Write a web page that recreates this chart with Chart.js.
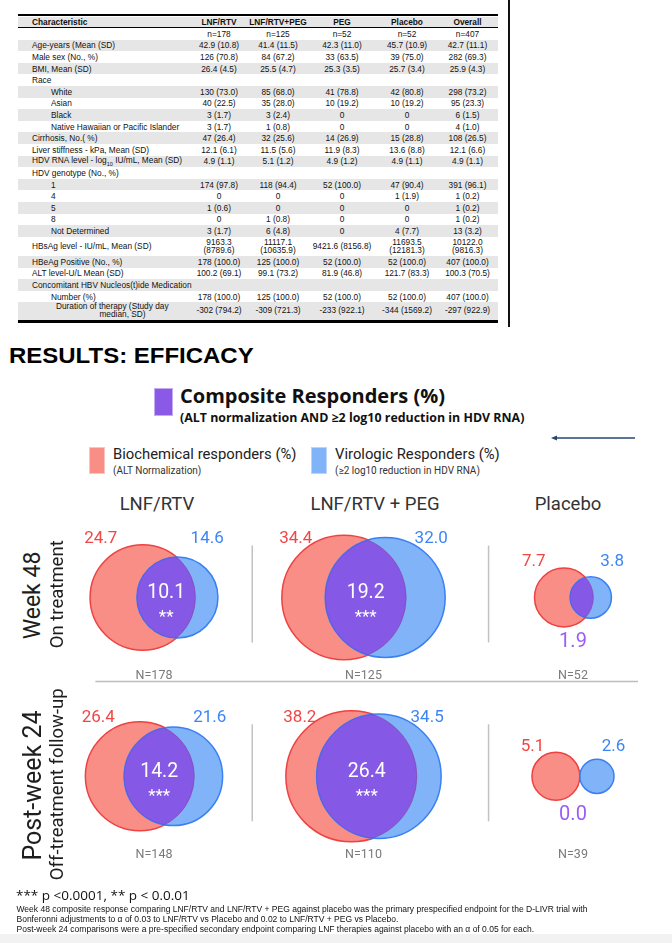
<!DOCTYPE html>
<html>
<head>
<meta charset="utf-8">
<script src="https://cdn.jsdelivr.net/npm/chart.js@4.4.1/dist/chart.umd.min.js"></script>
<style>
  body { margin: 0; width: 672px; height: 943px; position: relative; overflow: hidden; background: #fff; font-family: Roboto, sans-serif; color: #222; }
  .abs { position: absolute; line-height: 1; white-space: nowrap; }
  #baseline { position: absolute; left: 18px; top: 14px; width: 480px; border-top: 2.7px solid #000; }
  #endline { position: absolute; left: 18px; top: 319.5px; width: 480px; border-top: 3px solid #000; }
  #sideline { position: absolute; left: 508px; top: 0; width: 1.5px; height: 327px; background: #111; }
  table { position: absolute; left: 18px; top: 16.5px; width: 480px; border-collapse: collapse; table-layout: fixed;
          font-family: "Liberation Sans", Arial, sans-serif; font-size: 8.3px; color: #111; }
  td { padding: 0; height: 11.6px; line-height: 8px; text-align: center; white-space: nowrap; overflow: visible; }
  td:first-child { text-align: left; padding-left: 14px; }
  tr.g td { background: #e6e6e6; }
  tr.hd td { font-weight: bold; border-bottom: 1px solid #000; height: 10.6px; }
  tr.in td:first-child { padding-left: 33px; }
  tr.tall td { height: 19.1px; }
  tr.dur td { height: 17.4px; line-height: 7.6px; }
  .rot { position: absolute; line-height: 1; text-align: center; white-space: nowrap; transform: rotate(-90deg); color: #1e1e1e; }
  .foot { position: absolute; left: 16.5px; font-family: "Liberation Sans", Arial, sans-serif; font-size: 8.5px; line-height: 1; color: #111; white-space: nowrap; }
</style>
</head>
<body>

<div id="baseline"></div>
<table>
  <colgroup><col style="width:171px"><col style="width:60px"><col style="width:58px"><col style="width:70px"><col style="width:60px"><col style="width:61px"></colgroup>
  <tr class="hd g"><td>Characteristic</td><td>LNF/RTV</td><td>LNF/RTV+PEG</td><td>PEG</td><td>Placebo</td><td>Overall</td></tr>
  <tr><td></td><td>n=178</td><td>n=125</td><td>n=52</td><td>n=52</td><td>n=407</td></tr>
  <tr class="g"><td>Age-years (Mean (SD)</td><td>42.9 (10.8)</td><td>41.4 (11.5)</td><td>42.3 (11.0)</td><td>45.7 (10.9)</td><td>42.7 (11.1)</td></tr>
  <tr><td>Male sex (No., %)</td><td>126 (70.8)</td><td>84 (67.2)</td><td>33 (63.5)</td><td>39 (75.0)</td><td>282 (69.3)</td></tr>
  <tr class="g"><td>BMI, Mean (SD)</td><td>26.4 (4.5)</td><td>25.5 (4.7)</td><td>25.3 (3.5)</td><td>25.7 (3.4)</td><td>25.9 (4.3)</td></tr>
  <tr><td>Race</td><td></td><td></td><td></td><td></td><td></td></tr>
  <tr class="g in"><td>White</td><td>130 (73.0)</td><td>85 (68.0)</td><td>41 (78.8)</td><td>42 (80.8)</td><td>298 (73.2)</td></tr>
  <tr class="in"><td>Asian</td><td>40 (22.5)</td><td>35 (28.0)</td><td>10 (19.2)</td><td>10 (19.2)</td><td>95 (23.3)</td></tr>
  <tr class="g in"><td>Black</td><td>3 (1.7)</td><td>3 (2.4)</td><td>0</td><td>0</td><td>6 (1.5)</td></tr>
  <tr class="in"><td>Native Hawaiian or Pacific Islander</td><td>3 (1.7)</td><td>1 (0.8)</td><td>0</td><td>0</td><td>4 (1.0)</td></tr>
  <tr class="g"><td>Cirrhosis, No.( %)</td><td>47 (26.4)</td><td>32 (25.6)</td><td>14 (26.9)</td><td>15 (28.8)</td><td>108 (26.5)</td></tr>
  <tr><td>Liver stiffness - kPa, Mean (SD)</td><td>12.1 (6.1)</td><td>11.5 (5.6)</td><td>11.9 (8.3)</td><td>13.6 (8.8)</td><td>12.1 (6.6)</td></tr>
  <tr class="g"><td>HDV RNA level - log<sub style="font-size:5.5px">10</sub> IU/mL, Mean (SD)</td><td>4.9 (1.1)</td><td>5.1 (1.2)</td><td>4.9 (1.2)</td><td>4.9 (1.1)</td><td>4.9 (1.1)</td></tr>
  <tr><td>HDV genotype (No., %)</td><td></td><td></td><td></td><td></td><td></td></tr>
  <tr class="g in"><td>1</td><td>174 (97.8)</td><td>118 (94.4)</td><td>52 (100.0)</td><td>47 (90.4)</td><td>391 (96.1)</td></tr>
  <tr class="in"><td>4</td><td>0</td><td>0</td><td>0</td><td>1 (1.9)</td><td>1 (0.2)</td></tr>
  <tr class="g in"><td>5</td><td>1 (0.6)</td><td>0</td><td>0</td><td>0</td><td>1 (0.2)</td></tr>
  <tr class="in"><td>8</td><td>0</td><td>1 (0.8)</td><td>0</td><td>0</td><td>1 (0.2)</td></tr>
  <tr class="g in"><td>Not Determined</td><td>3 (1.7)</td><td>6 (4.8)</td><td>0</td><td>4 (7.7)</td><td>13 (3.2)</td></tr>
  <tr class="tall"><td>HBsAg level - IU/mL, Mean (SD)</td><td>9163.3<br>(8789.6)</td><td>11117.1<br>(10635.9)</td><td>9421.6 (8156.8)</td><td>11693.5<br>(12181.3)</td><td>10122.0<br>(9816.3)</td></tr>
  <tr class="g"><td>HBeAg Positive (No., %)</td><td>178 (100.0)</td><td>125 (100.0)</td><td>52 (100.0)</td><td>52 (100.0)</td><td>407 (100.0)</td></tr>
  <tr><td>ALT level-U/L Mean (SD)</td><td>100.2 (69.1)</td><td>99.1 (73.2)</td><td>81.9 (46.8)</td><td>121.7 (83.3)</td><td>100.3 (70.5)</td></tr>
  <tr class="g"><td>Concomitant HBV Nucleos(t)ide Medication</td><td></td><td></td><td></td><td></td><td></td></tr>
  <tr class="in"><td>Number (%)</td><td>178 (100.0)</td><td>125 (100.0)</td><td>52 (100.0)</td><td>52 (100.0)</td><td>407 (100.0)</td></tr>
  <tr class="g dur"><td style="padding-left:38px">Duration of therapy (Study day<br><span style="display:block;text-align:center">median, SD)</span></td><td>-302 (794.2)</td><td>-309 (721.3)</td><td>-233 (922.1)</td><td>-344 (1569.2)</td><td>-297 (922.9)</td></tr>
</table>
<div id="endline"></div>
<div id="sideline"></div>

<div class="abs" style="left:9px; top:345px; font-family:'Liberation Sans',Arial,sans-serif; font-weight:bold; font-size:22px; color:#000; transform:scaleX(1.09); transform-origin:left center;">RESULTS: EFFICACY</div>

<div class="abs" style="left:154px; top:388px; width:17px; height:26px; background:#8a5ae6; border:1px solid #c4acf3;"></div>
<div class="abs" style="left:180px; top:386px; font-family:'Open Sans',sans-serif; font-weight:700; font-size:20px; color:#111;">Composite Responders (%)</div>
<div class="abs" style="left:180px; top:411.8px; font-family:'Open Sans',sans-serif; font-weight:700; font-size:12.4px; color:#111;">(ALT normalization AND ≥2 log10 reduction in HDV RNA)</div>

<svg class="abs" style="left:545px; top:430px;" width="100" height="16">
  <line x1="10" y1="8" x2="90" y2="8" stroke="#27466e" stroke-width="1.4"/>
  <polygon points="6,8 12,5.5 12,10.5" fill="#27466e"/>
</svg>

<div class="abs" style="left:89px; top:447px; width:14px; height:25px; background:#f98e87; border:1px solid #fcc4bf;"></div>
<div class="abs" style="left:113px; top:446.6px; font-size:14.8px; color:#222;">Biochemical responders (%)</div>
<div class="abs" style="left:113px; top:465.8px; font-size:10px; color:#333;">(ALT Normalization)</div>
<div class="abs" style="left:311px; top:447px; width:14px; height:25px; background:#80b3f8; border:1px solid #bcd6fb;"></div>
<div class="abs" style="left:335px; top:446.6px; font-size:14.8px; color:#222;">Virologic Responders (%)</div>
<div class="abs" style="left:335px; top:465.8px; font-size:10px; color:#333;">(≥2 log10 reduction in HDV RNA)</div>

<div id="headers"></div>

<canvas id="venn" width="612" height="360" style="position:absolute; left:60px; top:520px;"></canvas>

<div id="rowlabels"></div>

<div class="abs" style="left:16px; top:888.5px; font-family:'Open Sans',sans-serif; font-size:13.5px; color:#111;">*** p &lt;0.0001, ** p &lt; 0.0.01</div>
<div class="foot" style="top:904.5px;">Week 48 composite response comparing LNF/RTV and LNF/RTV + PEG against placebo was the primary prespecified endpoint for the D-LIVR trial with</div>
<div class="foot" style="top:914.5px;">Bonferonni adjustments to α of 0.03 to LNF/RTV vs Placebo and 0.02 to LNF/RTV + PEG vs Placebo.</div>
<div style="position:absolute; left:0; top:934px; width:672px; height:9px; background:#f2f2f2;"></div>
<div class="foot" style="top:924.8px;">Post-week 24 comparisons were a pre-specified secondary endpoint comparing LNF therapies against placebo with an α of 0.05 for each.</div>

<script>
// values
const arms = ['LNF/RTV', 'LNF/RTV + PEG', 'Placebo'];
const timepoints = ['Week 48', 'Post-week 24'];
const timepointNotes = ['On treatment', 'Off-treatment follow-up'];
const biochemical = [[24.7, 34.4, 7.7], [26.4, 38.2, 5.1]];
const virologic = [[14.6, 32.0, 3.8], [21.6, 34.5, 2.6]];
const composite = [[10.1, 19.2, 1.9], [14.2, 26.4, 0.0]];
const significance = [['**', '***', ''], ['***', '***', '']];
const patients = [[178, 125, 52], [148, 110, 39]];

const RED_FILL = '#f98e87', RED_LINE = '#ee4242';
const BLUE_FILL = '#80b3f8', BLUE_LINE = '#3b80f3';
const PURPLE = '#8558e6';
const RED_TEXT = '#ef4646', BLUE_TEXT = '#3d85f5', PURPLE_TEXT = '#9a5ef4';

// circle radius in px per sqrt(percent), so circle area follows the percentage
const K = 10.6;
const X_MIN = -0.4487, X_MAX = 2.4726, Y_MIN = -0.4334, Y_MAX = 1.58;
const CANVAS_W = 612;
const PX_PER_X = CANVAS_W / (X_MAX - X_MIN);

// column titles and row titles (plain text)
const headerX = [157, 375, 568];
arms.forEach((arm, i) => {
    const d = document.createElement('div');
    d.className = 'abs';
    d.style.cssText = `left:${headerX[i] - 100}px; top:494.5px; width:200px; text-align:center; font-size:18.5px; color:#333;`;
    d.textContent = arm;
    document.getElementById('headers').appendChild(d);
});
const rowLabelY = [595, 785];
const rowLabelSize = [23, 25];
timepoints.forEach((t, i) => {
    const box = document.getElementById('rowlabels');
    const big = document.createElement('div');
    big.className = 'rot';
    big.style.cssText = `left:${31.5 - 110}px; top:${rowLabelY[i] - rowLabelSize[i] / 2}px; width:220px; font-size:${rowLabelSize[i]}px;`;
    big.textContent = t;
    box.appendChild(big);
    const small = document.createElement('div');
    small.className = 'rot';
    small.style.cssText = `left:${56.5 - 110}px; top:${rowLabelY[i] - 1 - 9.25}px; width:220px; font-size:18.5px;`;
    small.textContent = timepointNotes[i];
    box.appendChild(small);
});

// two-circle overlap area, and the centre distance that gives a wanted overlap
function overlapArea(r1, r2, d) {
    if (d >= r1 + r2) return 0;
    if (d <= Math.abs(r1 - r2)) return Math.PI * Math.min(r1, r2) ** 2;
    const a1 = r1 * r1 * Math.acos((d * d + r1 * r1 - r2 * r2) / (2 * d * r1));
    const a2 = r2 * r2 * Math.acos((d * d + r2 * r2 - r1 * r1) / (2 * d * r2));
    const k = 0.5 * Math.sqrt((-d + r1 + r2) * (d + r1 - r2) * (d - r1 + r2) * (d + r1 + r2));
    return a1 + a2 - k;
}
function centreDistance(r1, r2, area) {
    if (area <= 0) return r1 + r2;
    let lo = Math.abs(r1 - r2), hi = r1 + r2;
    for (let i = 0; i < 60; i++) {
        const mid = (lo + hi) / 2;
        if (overlapArea(r1, r2, mid) > area) lo = mid; else hi = mid;
    }
    return (lo + hi) / 2;
}

const redPoints = [], bluePoints = [], panels = [];
timepoints.forEach((t, row) => {
    arms.forEach((arm, a) => {
        const r1 = K * Math.sqrt(biochemical[row][a]);
        const r2 = K * Math.sqrt(virologic[row][a]);
        const d = centreDistance(r1, r2, Math.PI * K * K * composite[row][a]);
        const redOff = r1 - (r1 + d + r2) / 2;
        redPoints.push({ x: a + redOff / PX_PER_X, y: row, r: r1 });
        bluePoints.push({ x: a + (redOff + d) / PX_PER_X, y: row, r: r2 });
        panels.push({ row: row, arm: a });
    });
});

function circlePath(ctx, el) {
    ctx.beginPath();
    ctx.arc(el.x, el.y, el.options.radius, 0, Math.PI * 2);
}

const vennOverlay = {
    id: 'vennOverlay',
    afterDatasetsDraw(chart) {
        const ctx = chart.ctx;
        const reds = chart.getDatasetMeta(0).data;
        const blues = chart.getDatasetMeta(1).data;
        const xs = chart.scales.x, ys = chart.scales.y;

        // composite region
        panels.forEach((p, i) => {
            const r = reds[i], b = blues[i];
            ctx.save();
            circlePath(ctx, r); ctx.clip();
            circlePath(ctx, b); ctx.fillStyle = PURPLE; ctx.fill();
            ctx.lineWidth = 1; ctx.strokeStyle = 'rgba(80,90,220,0.55)'; ctx.stroke();
            ctx.restore();
            ctx.save();
            circlePath(ctx, b); ctx.clip();
            circlePath(ctx, r); ctx.lineWidth = 1; ctx.strokeStyle = 'rgba(140,60,150,0.55)'; ctx.stroke();
            ctx.restore();
        });

        // separators
        const edges = arms.map((a, ai) => {
            let left = Infinity, right = -Infinity;
            panels.forEach((p, i) => {
                if (p.arm !== ai) return;
                left = Math.min(left, reds[i].x - reds[i].options.radius);
                right = Math.max(right, blues[i].x + blues[i].options.radius);
            });
            return { left, right };
        });
        ctx.save();
        ctx.strokeStyle = '#c2c2c2';
        ctx.lineWidth = 1.5;
        timepoints.forEach((t, row) => {
            const cy = ys.getPixelForValue(row);
            for (let a = 0; a < arms.length - 1; a++) {
                const sx = (edges[a].right + edges[a + 1].left) / 2;
                ctx.beginPath(); ctx.moveTo(sx, cy - 52); ctx.lineTo(sx, cy + 45); ctx.stroke();
            }
        });
        ctx.lineWidth = 1.6;
        ctx.strokeStyle = '#bdbdbd';
        const hy = ys.getPixelForValue(0.47);
        ctx.beginPath(); ctx.moveTo(xs.getPixelForValue(-0.28), hy); ctx.lineTo(xs.getPixelForValue(2.31), hy); ctx.stroke();
        ctx.restore();

        // labels
        ctx.save();
        ctx.textAlign = 'center';
        ctx.textBaseline = 'middle';
        panels.forEach((p, i) => {
            const r = reds[i], b = blues[i];
            const r1 = r.options.radius, r2 = b.options.radius;
            const cy = r.y;
            const left = r.x - r1, right = b.x + r2;
            const pc = (left + right) / 2, half = (right - left) / 2;
            const off = Math.max(half - 14, half * 0.55 + 18);
            const maxR = Math.max(r1, r2);
            const ly = cy - Math.min(59, maxR + 6);
            ctx.font = '400 17px Roboto';
            ctx.fillStyle = RED_TEXT;
            ctx.fillText(biochemical[p.row][p.arm].toFixed(1), pc - off, ly);
            ctx.fillStyle = BLUE_TEXT;
            ctx.fillText(virologic[p.row][p.arm].toFixed(1), pc + off, ly);

            const inner = (r.x + r1) - (b.x - r2);
            if (inner > 40) {
                const mx = ((b.x - r2) + (r.x + r1)) / 2;
                ctx.fillStyle = '#ffffff';
                ctx.font = '400 19.5px Roboto';
                ctx.fillText(composite[p.row][p.arm].toFixed(1), mx, cy - 4);
                ctx.font = '400 17px Roboto';
                ctx.fillText(significance[p.row][p.arm], mx, cy + 20);
            } else {
                ctx.fillStyle = PURPLE_TEXT;
                ctx.font = '400 20px Roboto';
                ctx.fillText(composite[p.row][p.arm].toFixed(1), pc, cy + maxR + 15);
            }

            ctx.fillStyle = '#7a7a7a';
            ctx.font = '400 12.5px Roboto';
            ctx.fillText('N=' + patients[p.row][p.arm], xs.getPixelForValue(p.arm), ys.getPixelForValue(p.row + 0.44));
        });
        ctx.restore();
    }
};

new Chart(document.getElementById('venn').getContext('2d'), {
    type: 'bubble',
    data: {
        datasets: [
            { label: 'Biochemical responders', data: redPoints, order: 2,
              backgroundColor: RED_FILL, borderColor: RED_LINE, borderWidth: 1.5 },
            { label: 'Virologic responders', data: bluePoints, order: 1,
              backgroundColor: BLUE_FILL, borderColor: BLUE_LINE, borderWidth: 1.5 }
        ]
    },
    options: {
        responsive: false,
        animation: false,
        events: [],
        layout: { padding: 0, autoPadding: false },
        scales: {
            x: { type: 'linear', min: X_MIN, max: X_MAX, display: false },
            y: { type: 'linear', min: Y_MIN, max: Y_MAX, reverse: true, display: false }
        },
        plugins: {
            legend: { display: false },
            tooltip: { enabled: false }
        }
    },
    plugins: [vennOverlay]
});
</script>
</body>
</html>
